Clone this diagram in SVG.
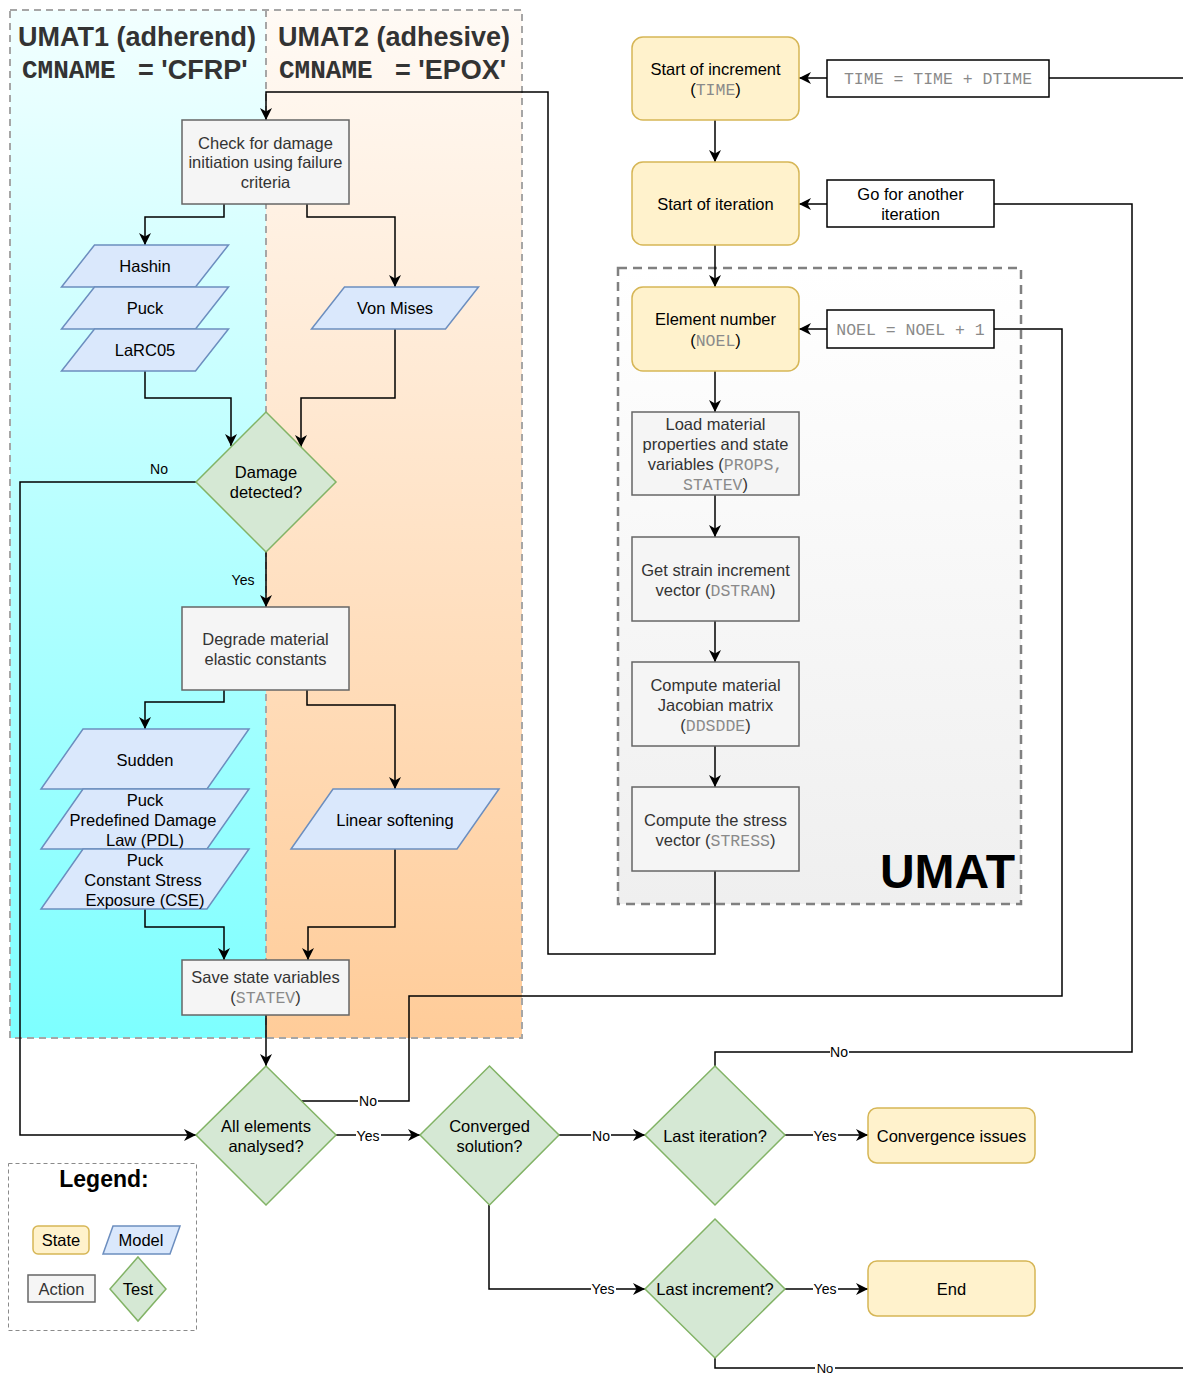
<svg xmlns="http://www.w3.org/2000/svg" width="1183" height="1374" viewBox="0 0 1183 1374">
<defs>
<linearGradient id="gCyan" x1="0" y1="0" x2="0" y2="1"><stop offset="0" stop-color="#f2ffff"/><stop offset="1" stop-color="#7dffff"/></linearGradient>
<linearGradient id="gPeach" x1="0" y1="0" x2="0" y2="1"><stop offset="0" stop-color="#fffaf5"/><stop offset="1" stop-color="#ffcc99"/></linearGradient>
<linearGradient id="gGrey" x1="0" y1="0" x2="0" y2="1"><stop offset="0" stop-color="#ffffff"/><stop offset="1" stop-color="#efefef"/></linearGradient>
<marker id="arr" viewBox="0 0 12 12" refX="12" refY="6" markerWidth="12" markerHeight="12" markerUnits="userSpaceOnUse" orient="auto"><path d="M0,0 L12,6 L0,12 L3.5,6 z" fill="#000"/></marker>
</defs>
<style>
text{font-family:"Liberation Sans",Arial,sans-serif;font-size:16.5px;text-anchor:middle}
.m{font-family:"Liberation Mono","Courier New",monospace;fill:#8a8a8a}
.state{fill:#fff2cc;stroke:#d6b656;stroke-width:1.5}
.model{fill:#dae8fc;stroke:#6c8ebf;stroke-width:1.5}
.action{fill:#f5f5f5;stroke:#666666;stroke-width:1.5}
.test{fill:#d5e8d4;stroke:#82b366;stroke-width:1.5}
.label{fill:#ffffff;stroke:#000;stroke-width:1.5}
.at{fill:#333333}
.bt{fill:#000000}
.e{fill:none;stroke:#000;stroke-width:1.5}
.ea{fill:none;stroke:#000;stroke-width:1.5;marker-end:url(#arr)}
.el{font-size:14px;fill:#000}
.lane{stroke:#a6a6a6;stroke-width:2;stroke-dasharray:7 5}
.hd{font-weight:bold;font-size:27px;fill:#333333}
.hm{font-family:"Liberation Mono","Courier New",monospace;font-weight:bold;font-size:26px;fill:#333333;text-anchor:start}
.hs{font-weight:bold;font-size:27px;fill:#333333;text-anchor:start}
</style>
<rect width="1183" height="1374" fill="#ffffff"/>
<g id="lanes">
<rect x="10" y="10" width="256" height="1028" fill="url(#gCyan)"/>
<rect x="266" y="10" width="256" height="1028" fill="url(#gPeach)"/>
<rect x="10" y="10" width="512" height="1028" fill="none" class="lane"/>
<line x1="266" y1="10" x2="266" y2="1038" class="lane"/>
<text class="hd" x="137" y="46">UMAT1 (adherend)</text>
<text class="hm" x="22" y="78">CMNAME</text>
<text class="hs" x="138" y="79">= 'CFRP'</text>
<text class="hd" x="394" y="46">UMAT2 (adhesive)</text>
<text class="hm" x="279" y="78">CMNAME</text>
<text class="hs" x="395" y="79">= 'EPOX'</text>
</g>
<g id="umat-container">
<rect x="618" y="268" width="403" height="636" fill="url(#gGrey)" stroke="#808080" stroke-width="2.5" stroke-dasharray="9 6"/>
<text x="1015" y="888" style="font-weight:bold;font-size:48px;text-anchor:end;fill:#000">UMAT</text>
</g>
<g id="connectors">
<path class="ea" d="M1190,78 H799"/>
<path class="ea" d="M715,120 V162"/>
<path class="ea" d="M715,1066 V1052 H1132 V204 H799"/>
<path class="ea" d="M715,245 V287"/>
<path class="ea" d="M300,1101 H409 V996 H1062 V329 H799"/>
<path class="ea" d="M715,371 V412"/>
<path class="ea" d="M715,495 V537"/>
<path class="ea" d="M715,621 V662"/>
<path class="ea" d="M715,746 V787"/>
<path class="ea" d="M715,871 V954 H548 V92 H266 V120"/>
<path class="ea" d="M224,204 V217 H145 V245"/>
<path class="ea" d="M307,204 V217 H395 V287"/>
<path class="ea" d="M145,371 V398 H231 V446"/>
<path class="ea" d="M395,329 V398 H301 V447"/>
<path class="ea" d="M196,482 H20 V1135 H196"/>
<path class="ea" d="M266,551 V607"/>
<path class="ea" d="M224,690 V702 H145 V729"/>
<path class="ea" d="M307,690 V705 H395 V789"/>
<path class="ea" d="M145,909 V927 H224 V960"/>
<path class="ea" d="M395,849 V927 H308 V960"/>
<path class="ea" d="M266,1015 V1066"/>
<path class="ea" d="M336,1135 H420"/>
<path class="ea" d="M559,1135 H645"/>
<path class="ea" d="M785,1135 H868"/>
<path class="ea" d="M489,1205 V1289 H645"/>
<path class="ea" d="M785,1289 H868"/>
<path class="e" d="M715,1358 V1368 H1190"/>
<text class="el" x="159" y="474">No</text>
<text class="el" x="243" y="585">Yes</text>
<rect x="830" y="1045" width="19" height="14" fill="#fff"/><text class="el" x="839" y="1057">No</text>
<rect x="358" y="1094" width="20" height="14" fill="#fff"/><text class="el" x="368" y="1106">No</text>
<rect x="356" y="1128" width="25" height="14" fill="#fff"/><text class="el" x="368" y="1141">Yes</text>
<rect x="591" y="1128" width="20" height="14" fill="#fff"/><text class="el" x="601" y="1141">No</text>
<rect x="813" y="1128" width="25" height="14" fill="#fff"/><text class="el" x="825" y="1141">Yes</text>
<rect x="591" y="1282" width="25" height="14" fill="#fff"/><text class="el" x="603" y="1294">Yes</text>
<rect x="813" y="1282" width="25" height="14" fill="#fff"/><text class="el" x="825" y="1294">Yes</text>
<rect x="815" y="1362" width="20" height="12" fill="#fff"/><text class="el" x="825" y="1373" style="font-size:13px">No</text>
</g>
<g id="n-start-increment"><rect class="state" x="632" y="37" width="167" height="83" rx="11"/><text class="bt" x="715.5" y="75">Start of increment</text><text class="bt" x="715.5" y="95">(<tspan class="m">TIME</tspan>)</text></g>
<g id="n-time-update"><rect class="label" x="827" y="60" width="222" height="37"/><text class="m" x="938" y="84">TIME = TIME + DTIME</text></g>
<g id="n-start-iteration"><rect class="state" x="632" y="162" width="167" height="83" rx="11"/><text class="bt" x="715.5" y="210">Start of iteration</text></g>
<g id="n-another-iteration"><rect class="label" x="827" y="180" width="167" height="47"/><text class="bt" x="910.5" y="200">Go for another</text><text class="bt" x="910.5" y="220">iteration</text></g>
<g id="n-element"><rect class="state" x="632" y="287" width="167" height="84" rx="11"/><text class="bt" x="715.5" y="325">Element number</text><text class="bt" x="715.5" y="346">(<tspan class="m">NOEL</tspan>)</text></g>
<g id="n-noel"><rect class="label" x="827" y="310" width="167" height="38"/><text class="m" x="910.5" y="335">NOEL = NOEL + 1</text></g>
<g id="n-load"><rect class="action" x="632" y="412" width="167" height="83"/><text class="at" x="715.5" y="430">Load material</text><text class="at" x="715.5" y="450">properties and state</text><text class="at" x="715.5" y="470">variables (<tspan class="m">PROPS,</tspan></text><text class="at" x="715.5" y="490"><tspan class="m">STATEV</tspan>)</text></g>
<g id="n-strain"><rect class="action" x="632" y="537" width="167" height="84"/><text class="at" x="715.5" y="576">Get strain increment</text><text class="at" x="715.5" y="596">vector (<tspan class="m">DSTRAN</tspan>)</text></g>
<g id="n-jacobian"><rect class="action" x="632" y="662" width="167" height="84"/><text class="at" x="715.5" y="691">Compute material</text><text class="at" x="715.5" y="711">Jacobian matrix</text><text class="at" x="715.5" y="731">(<tspan class="m">DDSDDE</tspan>)</text></g>
<g id="n-stress"><rect class="action" x="632" y="787" width="167" height="84"/><text class="at" x="715.5" y="826">Compute the stress</text><text class="at" x="715.5" y="846">vector (<tspan class="m">STRESS</tspan>)</text></g>
<g id="n-check"><rect class="action" x="182" y="120" width="167" height="84"/><text class="at" x="265.5" y="149">Check for damage</text><text class="at" x="265.5" y="168">initiation using failure</text><text class="at" x="265.5" y="188">criteria</text></g>
<g id="n-hashin"><polygon class="model" points="94.5,245 228.5,245 195.5,287 61.5,287"/><text class="bt" x="145" y="272">Hashin</text></g>
<g id="n-puck"><polygon class="model" points="94.5,287 228.5,287 195.5,329 61.5,329"/><text class="bt" x="145" y="314">Puck</text></g>
<g id="n-larc05"><polygon class="model" points="94.5,329 228.5,329 195.5,371 61.5,371"/><text class="bt" x="145" y="356">LaRC05</text></g>
<g id="n-vonmises"><polygon class="model" points="344.5,287 478.5,287 445.5,329 311.5,329"/><text class="bt" x="395" y="314">Von Mises</text></g>
<g id="n-damage"><polygon class="test" points="266,412 336,482 266,552 196,482"/><text class="bt" x="266" y="478">Damage</text><text class="bt" x="266" y="498">detected?</text></g>
<g id="n-degrade"><rect class="action" x="182" y="607" width="167" height="83"/><text class="at" x="265.5" y="645">Degrade material</text><text class="at" x="265.5" y="665">elastic constants</text></g>
<g id="n-sudden"><polygon class="model" points="83,729 249,729 207,789 41,789"/><text class="bt" x="145" y="766">Sudden</text></g>
<g id="n-pdl"><polygon class="model" points="83,789 249,789 207,849 41,849"/><text class="bt" x="145" y="806">Puck</text><text class="bt" x="143" y="826">Predefined Damage</text><text class="bt" x="145" y="846">Law (PDL)</text></g>
<g id="n-cse"><polygon class="model" points="83,849 249,849 207,909 41,909"/><text class="bt" x="145" y="866">Puck</text><text class="bt" x="143" y="886">Constant Stress</text><text class="bt" x="145" y="906">Exposure (CSE)</text></g>
<g id="n-linear"><polygon class="model" points="333,789 499,789 457,849 291,849"/><text class="bt" x="395" y="826">Linear softening</text></g>
<g id="n-save"><rect class="action" x="182" y="960" width="167" height="55"/><text class="at" x="265.5" y="983">Save state variables</text><text class="at" x="265.5" y="1003">(<tspan class="m">STATEV</tspan>)</text></g>
<g id="n-all-elements"><polygon class="test" points="266,1066 336,1135 266,1205 196,1135"/><text class="bt" x="266" y="1132">All elements</text><text class="bt" x="266" y="1152">analysed?</text></g>
<g id="n-converged"><polygon class="test" points="489.5,1066 559,1135 489.5,1205 420,1135"/><text class="bt" x="489.5" y="1132">Converged</text><text class="bt" x="489.5" y="1152">solution?</text></g>
<g id="n-last-iteration"><polygon class="test" points="715,1066 785,1135 715,1205 645,1135"/><text class="bt" x="715" y="1142">Last iteration?</text></g>
<g id="n-convergence-issues"><rect class="state" x="868" y="1108" width="167" height="55" rx="9"/><text class="bt" x="951.5" y="1142">Convergence issues</text></g>
<g id="n-last-increment"><polygon class="test" points="715,1219 785,1289 715,1358 645,1289"/><text class="bt" x="715" y="1295">Last increment?</text></g>
<g id="n-end"><rect class="state" x="868" y="1261" width="167" height="55" rx="9"/><text class="bt" x="951.5" y="1295">End</text></g>
<g id="legend">
<rect x="8.5" y="1163.5" width="188" height="167" fill="none" stroke="#8a8a8a" stroke-width="1" stroke-dasharray="4 3"/>
<text x="104" y="1187" style="font-weight:bold;font-size:23px;fill:#000">Legend:</text>
<rect class="state" x="33" y="1226" width="56" height="28" rx="5"/><text class="bt" x="61" y="1246">State</text>
<polygon class="model" points="113,1226 180,1226 170,1254 103,1254"/><text class="bt" x="141" y="1246">Model</text>
<rect class="action" x="28" y="1275" width="67" height="27"/><text class="at" x="61.5" y="1295">Action</text>
<polygon class="test" points="138,1257 166,1289 138,1321 110,1289"/><text class="bt" x="138" y="1295">Test</text>
</g>
</svg>
